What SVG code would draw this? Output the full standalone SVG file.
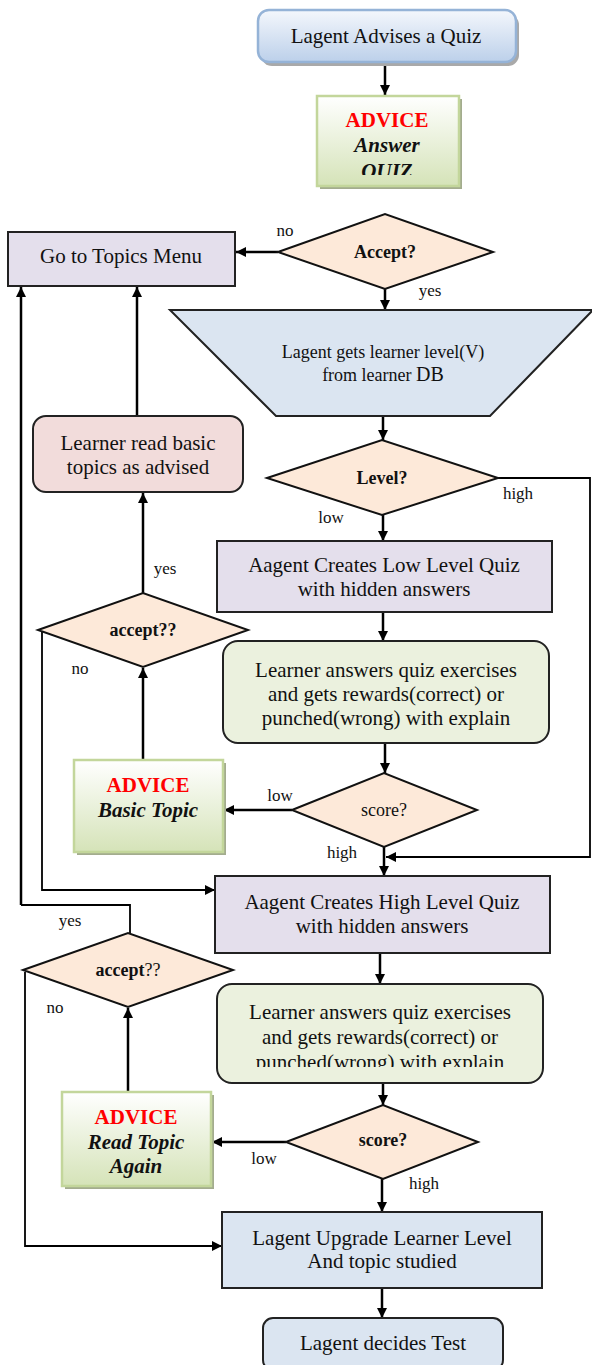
<svg xmlns="http://www.w3.org/2000/svg" width="592" height="1365" viewBox="0 0 592 1365">
  <defs>
    <linearGradient id="gradBlue" x1="0" y1="0" x2="0" y2="1">
      <stop offset="0" stop-color="#f4f7fc"/>
      <stop offset="1" stop-color="#bcd0ea"/>
    </linearGradient>
    <linearGradient id="gradGreen" x1="0" y1="0" x2="0" y2="1">
      <stop offset="0" stop-color="#ffffff"/>
      <stop offset="1" stop-color="#d5e3b8"/>
    </linearGradient>
    <marker id="arrow" viewBox="0 0 10 10" refX="10" refY="5" markerWidth="11" markerHeight="10" markerUnits="userSpaceOnUse" orient="auto">
      <path d="M0,0 L10,5 L0,10 z" fill="#000"/>
    </marker>
    <clipPath id="clipQuiz"><rect x="317" y="96" width="142" height="79"/></clipPath>
    <clipPath id="clipGreen2"><rect x="217" y="984" width="326" height="83"/></clipPath>
  </defs>
  <style>
    text { font-family: "Liberation Serif", "Times New Roman", serif; fill: #111; text-anchor: middle; }
    .t21 { font-size: 21px; }
    .t18 { font-size: 18px; }
    .lbl { font-size: 17px; }
    .dq { font-size: 18px; font-weight: bold; }
    .dr { font-size: 18px; }
    .adv { font-size: 21px; font-weight: bold; fill: #ff0000; }
    .advi { font-size: 21px; font-weight: bold; font-style: italic; }
    .box { stroke: #222; stroke-width: 2; }
    .lav { fill: #e4dfec; }
    .dia { fill: #fde9d9; stroke: #111; stroke-width: 2; }
    .green { fill: #ebf1de; }
    .pink { fill: #f2dcdb; }
    .blue { fill: #dbe5f1; }
    .advbox { fill: url(#gradGreen); stroke: #c3d69b; stroke-width: 2.5; }
    .advshadow { fill: #a3ac8e; }
    .conn { fill: none; stroke: #000; stroke-width: 2.5; }
    .thin { fill: none; stroke: #000; stroke-width: 1.8; }
  </style>

  <!-- connectors -->
  <g id="connectors">
    <path class="conn" d="M385,62 V95" marker-end="url(#arrow)"/>
    <path class="conn" d="M278,252 H236" marker-end="url(#arrow)"/>
    <path class="conn" d="M385,289 V310" marker-end="url(#arrow)"/>
    <path class="conn" d="M383,416 V440" marker-end="url(#arrow)"/>
    <path class="thin" d="M498,478 H590 V857 H386" marker-end="url(#arrow)"/>
    <path class="conn" d="M383,515 V541" marker-end="url(#arrow)"/>
    <path class="conn" d="M383,612 V641" marker-end="url(#arrow)"/>
    <path class="conn" d="M385,743 V773" marker-end="url(#arrow)"/>
    <path class="conn" d="M292,810 H224" marker-end="url(#arrow)"/>
    <path class="conn" d="M384,847 V876" marker-end="url(#arrow)"/>
    <path class="conn" d="M143,760 V668" marker-end="url(#arrow)"/>
    <path class="conn" d="M143,593 V493" marker-end="url(#arrow)"/>
    <path class="conn" d="M137,416 V287" marker-end="url(#arrow)"/>
    <path class="thin" d="M42,632 V890 H215" marker-end="url(#arrow)"/>
    <path class="thin" d="M130,933 V905 H21"/>
    <path class="conn" d="M21,905 V287" marker-end="url(#arrow)"/>
    <path class="conn" d="M380,953 V984" marker-end="url(#arrow)"/>
    <path class="conn" d="M383,1083 V1105" marker-end="url(#arrow)"/>
    <path class="conn" d="M286,1142 H212" marker-end="url(#arrow)"/>
    <path class="conn" d="M128,1092 V1008" marker-end="url(#arrow)"/>
    <path class="thin" d="M25,972 V1246 H222" marker-end="url(#arrow)"/>
    <path class="conn" d="M382,1179 V1212" marker-end="url(#arrow)"/>
    <path class="conn" d="M382,1288 V1318" marker-end="url(#arrow)"/>
  </g>

  <!-- edge labels -->
  <g id="edge-labels">
    <text class="lbl" x="285" y="236">no</text>
    <text class="lbl" x="430" y="296">yes</text>
    <text class="lbl" x="518" y="499">high</text>
    <text class="lbl" x="331" y="523">low</text>
    <text class="lbl" x="280" y="801">low</text>
    <text class="lbl" x="342" y="858">high</text>
    <text class="lbl" x="165" y="574">yes</text>
    <text class="lbl" x="80" y="674">no</text>
    <text class="lbl" x="70" y="926">yes</text>
    <text class="lbl" x="55" y="1013">no</text>
    <text class="lbl" x="264" y="1164">low</text>
    <text class="lbl" x="424" y="1189">high</text>
  </g>

  <g id="advises-quiz">
    <rect x="261" y="14" width="258" height="52" rx="11" fill="#a9a9a9"/>
    <rect x="258" y="10" width="258" height="52" rx="11" fill="url(#gradBlue)" stroke="#95b3d7" stroke-width="2.5"/>
    <text class="t21" x="386" y="43">Lagent Advises a Quiz</text>
  </g>

  <g id="advice-answer-quiz">
    <rect class="advshadow" x="320" y="99" width="142" height="90"/>
    <rect class="advbox" x="317" y="96" width="142" height="90"/>
    <text class="adv" x="387" y="127">ADVICE</text>
    <text class="advi" x="387" y="152">Answer</text>
    <text class="advi" x="387" y="178" clip-path="url(#clipQuiz)">QUIZ</text>
  </g>

  <g id="topics-menu">
    <rect class="box lav" x="8" y="232" width="227" height="54"/>
    <text class="t21" x="121" y="263">Go to Topics Menu</text>
  </g>

  <g id="accept-quiz">
    <polygon class="dia" points="278,252 385,214 493,252 385,289"/>
    <text class="dq" x="385" y="258">Accept?</text>
  </g>

  <g id="get-level">
    <polygon class="box blue" points="170,310 593,310 490,416 276,416"/>
    <text class="t18" x="383" y="358">Lagent gets learner level(V)</text>
    <text class="t18" x="383" y="381">from learner <tspan style="font-size:20px">DB</tspan></text>
  </g>

  <g id="level-decision">
    <polygon class="dia" points="267,478 382,440 498,478 382,515"/>
    <text class="dq" x="382" y="484">Level?</text>
  </g>

  <g id="low-quiz">
    <rect class="box lav" x="217" y="541" width="335" height="71"/>
    <text class="t21" x="384" y="572">Aagent Creates Low Level Quiz</text>
    <text class="t21" x="384" y="596">with hidden answers</text>
  </g>

  <g id="answer-low-quiz">
    <rect class="box green" x="223" y="641" width="326" height="102" rx="15"/>
    <text class="t21" x="386" y="677">Learner answers quiz exercises</text>
    <text class="t21" x="386" y="701">and gets rewards(correct) or</text>
    <text class="t21" x="386" y="725">punched(wrong) with explain</text>
  </g>

  <g id="score-low">
    <polygon class="dia" points="292,810 384,773 477,810 384,847"/>
    <text class="dr" x="384" y="816">score?</text>
  </g>

  <g id="advice-basic-topic">
    <rect class="advshadow" x="77" y="763" width="149" height="92"/>
    <rect class="advbox" x="74" y="760" width="149" height="92"/>
    <text class="adv" x="148" y="792">ADVICE</text>
    <text class="advi" x="148" y="817">Basic Topic</text>
  </g>

  <g id="accept-basic">
    <polygon class="dia" points="38,630 143,593 248,630 143,667"/>
    <text class="dq" x="143" y="636">accept??</text>
  </g>

  <g id="read-basic">
    <rect class="box pink" x="33" y="416" width="210" height="76" rx="13"/>
    <text class="t21" x="138" y="450">Learner read basic</text>
    <text class="t21" x="138" y="474">topics as advised</text>
  </g>

  <g id="high-quiz">
    <rect class="box lav" x="215" y="876" width="335" height="77"/>
    <text class="t21" x="382" y="909">Aagent Creates High Level Quiz</text>
    <text class="t21" x="382" y="933">with hidden answers</text>
  </g>

  <g id="accept-again">
    <polygon class="dia" points="23,970 128,933 233,970 128,1007"/>
    <text class="dr" x="128" y="976"><tspan font-weight="bold">accept</tspan>??</text>
  </g>

  <g id="answer-high-quiz">
    <rect class="box green" x="217" y="984" width="326" height="99" rx="15"/>
    <g clip-path="url(#clipGreen2)">
      <text class="t21" x="380" y="1019">Learner answers quiz exercises</text>
      <text class="t21" x="380" y="1044">and gets rewards(correct) or</text>
      <text class="t21" x="380" y="1069">punched(wrong) with explain</text>
    </g>
  </g>

  <g id="score-high">
    <polygon class="dia" points="286,1142 383,1105 478,1142 383,1179"/>
    <text class="dq" x="383" y="1146">score?</text>
  </g>

  <g id="advice-read-again">
    <rect class="advshadow" x="65" y="1095" width="149" height="94"/>
    <rect class="advbox" x="62" y="1092" width="149" height="94"/>
    <text class="adv" x="136" y="1124">ADVICE</text>
    <text class="advi" x="136" y="1149">Read Topic</text>
    <text class="advi" x="136" y="1173">Again</text>
  </g>

  <g id="upgrade-level">
    <rect class="box blue" x="222" y="1212" width="320" height="76"/>
    <text class="t21" x="382" y="1245">Lagent Upgrade Learner Level</text>
    <text class="t21" x="382" y="1268">And topic studied</text>
  </g>

  <g id="decides-test">
    <rect class="box blue" x="263" y="1318" width="240" height="52" rx="10"/>
    <text class="t21" x="383" y="1350">Lagent decides Test</text>
  </g>
</svg>
